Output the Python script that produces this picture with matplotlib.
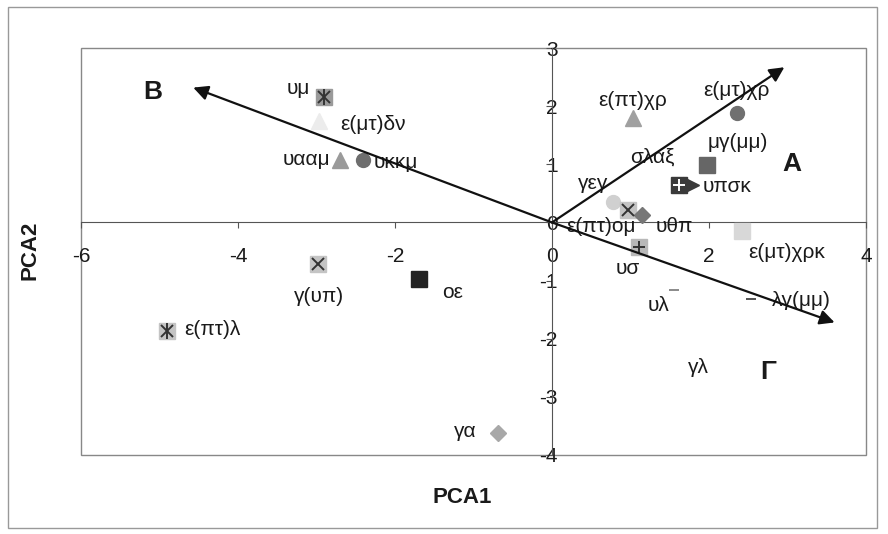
import matplotlib
matplotlib.use('Agg')
import matplotlib.pyplot as plt
from matplotlib.patches import Rectangle

plt.rcParams['font.family'] = ['Liberation Sans', 'DejaVu Sans']
plt.rcParams['axes.unicode_minus'] = False

# PCA scores
names = ['υμ', 'ε(μτ)δν', 'υααμ', 'υκκμ', 'ε(πτ)χρ', 'ε(μτ)χρ', 'μγ(μμ)', 'σλαξ',
         '', 'υπσκ', 'γεγ', 'ε(πτ)ομ', 'υθπ', 'υσ', 'ε(μτ)χρκ', 'υλ', 'λγ(μμ)',
         'γλ', 'γα', 'οε', 'γ(υπ)', 'ε(πτ)λ']
pca1 = [-2.90, -2.97, -2.70, -2.41, 1.03, 2.36, 1.98, 1.28,
        1.62, 1.77, 0.78, 0.97, 1.15, 1.11, 2.42, 1.56, 2.54,
        1.86, -0.69, -1.70, -2.98, -4.90]
pca2 = [2.15, 1.74, 1.08, 1.07, 1.79, 1.89, 0.98, 1.12,
        0.64, 0.64, 0.36, 0.21, 0.12, -0.43, -0.14, -1.17, -1.31,
        -2.50, -3.63, -0.98, -0.71, -1.86]

# loading arrows (groups)
groups = ['A', 'B', 'Γ']
arrow_x = [2.96, -4.57, 3.60]
arrow_y = [2.67, 2.32, -1.72]

xticks = [-6, -4, -2, 0, 2, 4]
yticks = [-4, -3, -2, -1, 0, 1, 2, 3]

# styles: marker, face colour, overlay symbols, overlay colour
markers = ['s', '^', '^', 'o', '^', 'o', 's', None,
           's', '>', 'o', 's', 'D', 's', 's', '_', '_',
           None, 'D', 's', 's', 's']
faces = ['#9a9a9a', '#ececec', '#9a9a9a', '#6e6e6e', '#a0a0a0', '#707070', '#666666', None,
         '#3a3a3a', '#3a3a3a', '#d0d0d0', '#c4c4c4', '#777777', '#b8b8b8', '#d8d8d8', '#777777', '#333333',
         None, '#a8a8a8', '#222222', '#c4c4c4', '#c4c4c4']
overlays = ['x|', '', '', '', '', '', '', '',
            '+', '', '', 'x', '', '+', '', '', '',
            '', '', '', 'x', 'x|']
ov_cols = ['#333333'] * 8 + ['white'] + ['#333333'] * 13
# label offsets in pixels (dx, dy up)
offsets = [(-26, 9), (54, -3), (-34, 0), (33, -2), (0, 18), (-1, 22), (30, 23), (0, 0),
           (0, 0), (36, -1), (-20, 18), (-27, -16), (32, -11), (-11, -21), (45, -22), (-16, -15), (50, -2),
           (0, 0), (-33, 2), (34, -13), (1, -33), (45, 1)]
letter_pos = [(3.05, 1.0), (-5.08, 2.24), (2.76, -2.58)]

fig = plt.figure(figsize=(8.88, 5.34), dpi=100)
ax = fig.add_axes([0.0912, 0.148, 0.884, 0.762])

for i in range(len(names)):
    if markers[i] is not None:
        size = 11
        if markers[i] == 'o':
            size = 10
        if markers[i] == 'D':
            size = 8.5
        if markers[i] == '_':
            ax.plot(pca1[i], pca2[i], marker='_', color=faces[i], ms=7, mew=1.2, zorder=3)
        else:
            ax.plot(pca1[i], pca2[i], marker=markers[i], color=faces[i], mec=faces[i],
                    ms=size, ls='none', zorder=3)
        for ch in overlays[i]:
            ax.plot(pca1[i], pca2[i], marker=ch, color=ov_cols[i], ms=9 if ch != '|' else 11,
                    mew=1.4, ls='none', zorder=4)
    if names[i]:
        ax.annotate(names[i], (pca1[i], pca2[i]), xytext=offsets[i], textcoords='offset pixels',
                    ha='center', va='center', fontsize=15, color='#1a1a1a', zorder=5)

for g in range(len(groups)):
    ax.annotate('', xy=(arrow_x[g], arrow_y[g]), xytext=(0, 0),
                arrowprops=dict(arrowstyle='-|>', lw=1.6, color='#111111',
                                mutation_scale=22, shrinkA=0, shrinkB=0), zorder=6)
    ax.text(letter_pos[g][0], letter_pos[g][1], groups[g], fontsize=19, fontweight='bold',
            ha='center', va='center', color='#1a1a1a')

ax.set_xlim(-6, 4)
ax.set_ylim(-4, 3)
ax.set_xticks(xticks)
ax.set_yticks(yticks)
ax.spines['left'].set_position(('data', 0))
ax.spines['bottom'].set_position(('data', 0))
ax.spines['top'].set_visible(False)
ax.spines['right'].set_visible(False)
ax.spines['left'].set_color('#555555')
ax.spines['bottom'].set_color('#555555')
ax.tick_params(axis='x', direction='out', length=4, pad=14, labelsize=15, colors='#555555',
               labelcolor='#1a1a1a')
ax.tick_params(axis='y', direction='out', length=4, pad=-8, labelsize=15, colors='#555555',
               labelcolor='#1a1a1a')
ax.add_patch(Rectangle((0, 0), 1, 1, transform=ax.transAxes, fill=False,
                       ec='#888888', lw=1.0, clip_on=False))

fig.text(0.034, 0.532, 'PCA2', rotation=90, fontsize=16, fontweight='bold',
         ha='center', va='center', color='#1a1a1a')
fig.text(0.520, 0.069, 'PCA1', fontsize=16, fontweight='bold',
         ha='center', va='center', color='#1a1a1a')

fig.add_artist(Rectangle((0.009, 0.011), 0.979, 0.976, transform=fig.transFigure,
                         fill=False, ec='#999999', lw=1.0))

fig.savefig('out.png', dpi=100)
